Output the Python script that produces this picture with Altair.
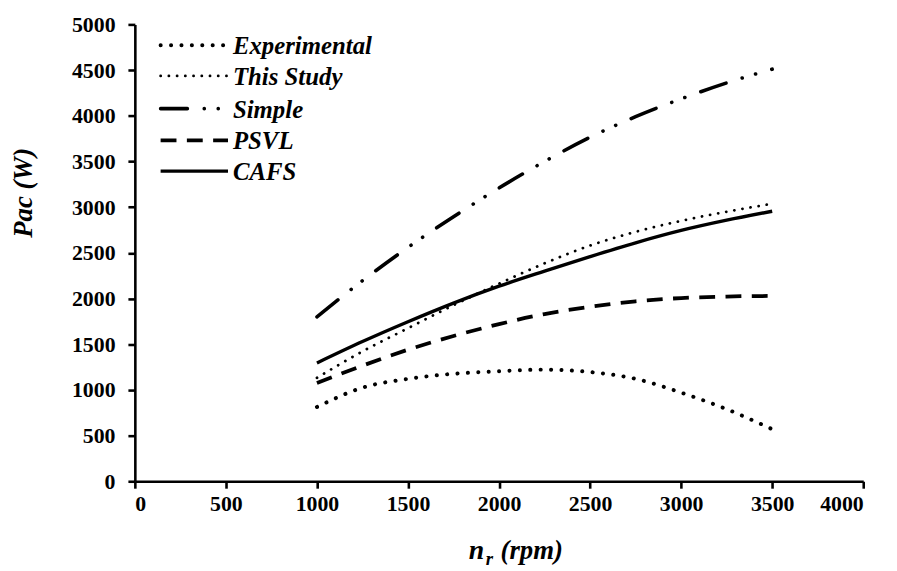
import altair as alt
import pandas as pd

# ---- data ----
rpm = [1000, 1250, 1500, 1750, 2000, 2250, 2500, 2750, 3000, 3250, 3500]
experimental = [813, 1024, 1121, 1176, 1204, 1222, 1195, 1121, 970, 789, 570]
this_study = [1132, 1421, 1675, 1927, 2163, 2385, 2580, 2730, 2850, 2950, 3037]
simple = [1800, 2195, 2560, 2895, 3210, 3500, 3765, 3990, 4185, 4360, 4510]
psvl = [1075, 1265, 1440, 1590, 1720, 1830, 1910, 1970, 2005, 2022, 2028]
cafs = [1295, 1529, 1746, 1950, 2135, 2300, 2459, 2610, 2745, 2857, 2955]

series_names = ["Experimental", "This Study", "Simple", "PSVL", "CAFS"]
series_values = [experimental, this_study, simple, psvl, cafs]

x_ticks = [0, 500, 1000, 1500, 2000, 2500, 3000, 3500, 4000]
y_ticks = [0, 500, 1000, 1500, 2000, 2500, 3000, 3500, 4000, 4500, 5000]

# ---- styles ----
styles = {
    "Experimental": dict(strokeWidth=4, strokeDash=[0.1, 10.4], strokeCap="round"),
    "This Study": dict(strokeWidth=2.8, strokeDash=[0.1, 8.2], strokeCap="round"),
    "Simple": dict(strokeWidth=3.6, strokeDash=[27, 17, 0.1, 14, 0.1, 17], strokeCap="round"),
    "PSVL": dict(strokeWidth=3.8, strokeDash=[16, 10.5], strokeCap="butt"),
    "CAFS": dict(strokeWidth=3.4, strokeCap="butt"),
}

FONT = "Liberation Serif, 'Times New Roman', Times, 'DejaVu Serif', serif"
W, H = 735, 461

xscale = alt.Scale(domain=[0, 4000], nice=False, zero=False)
yscale = alt.Scale(domain=[0, 5000], nice=False)

layers = []
for name, vals in zip(series_names, series_values):
    df = pd.DataFrame({"rpm": rpm, "pac": vals, "series": name})
    layers.append(
        alt.Chart(df).mark_line(color="black", interpolate="monotone",
                                **styles[name]).encode(
            x=alt.X("rpm:Q", scale=xscale,
                    axis=alt.Axis(values=x_ticks, title=None, format="d")),
            y=alt.Y("pac:Q", scale=yscale,
                    axis=alt.Axis(values=y_ticks, title=None, format="d")),
        )
    )

# ---- legend (drawn manually) ----
legend_rows = [21, 52, 85, 117, 148]
for name, ry in zip(series_names, legend_rows):
    ldf = pd.DataFrame({"series": [name]})
    layers.append(
        alt.Chart(ldf).mark_rule(color="black", **styles[name]).encode(
            x=alt.value(26), x2=alt.value(94), y=alt.value(ry)
        )
    )
    layers.append(
        alt.Chart(ldf).mark_text(
            align="left", baseline="middle", font=FONT, fontSize=25,
            fontWeight="bold", fontStyle="italic", color="black"
        ).encode(x=alt.value(99), y=alt.value(ry + 1), text="series:N")
    )

# ---- axis titles ----
title_df = pd.DataFrame({"t": ["Pac (W)"]})
layers.append(
    alt.Chart(title_df).mark_text(
        align="center", baseline="alphabetic", angle=270, font=FONT,
        fontSize=27, fontWeight="bold", fontStyle="italic", color="black"
    ).encode(x=alt.value(-104), y=alt.value(170), text="t:N")
)
for txt, xx, yy, fs in [("n", 337, 539, 28), ("r", 354, 545, 19), ("(rpm)", 369, 539, 27)]:
    tdf = pd.DataFrame({"t": [txt]})
    layers.append(
        alt.Chart(tdf).mark_text(
            align="left", baseline="alphabetic", font=FONT, fontSize=fs,
            fontWeight="bold", fontStyle="italic", color="black"
        ).encode(x=alt.value(xx), y=alt.value(yy), text="t:N")
    )

chart = alt.layer(*layers).properties(
    width=W, height=H,
    autosize=alt.AutoSizeParams(type="none"),
    padding={"left": 128, "top": 14, "right": 26, "bottom": 88},
).configure_view(stroke=None).configure_axis(
    grid=False,
    domainColor="black", domainWidth=2.6,
    tickColor="black", tickWidth=2.6, tickSize=7,
    labelFont=FONT, labelFontWeight="bold", labelFontSize=22,
    labelColor="black",
).configure_axisX(labelPadding=6).configure_axisY(labelPadding=13)

chart.save("out.html", embed_options={"renderer": "svg", "actions": False})
